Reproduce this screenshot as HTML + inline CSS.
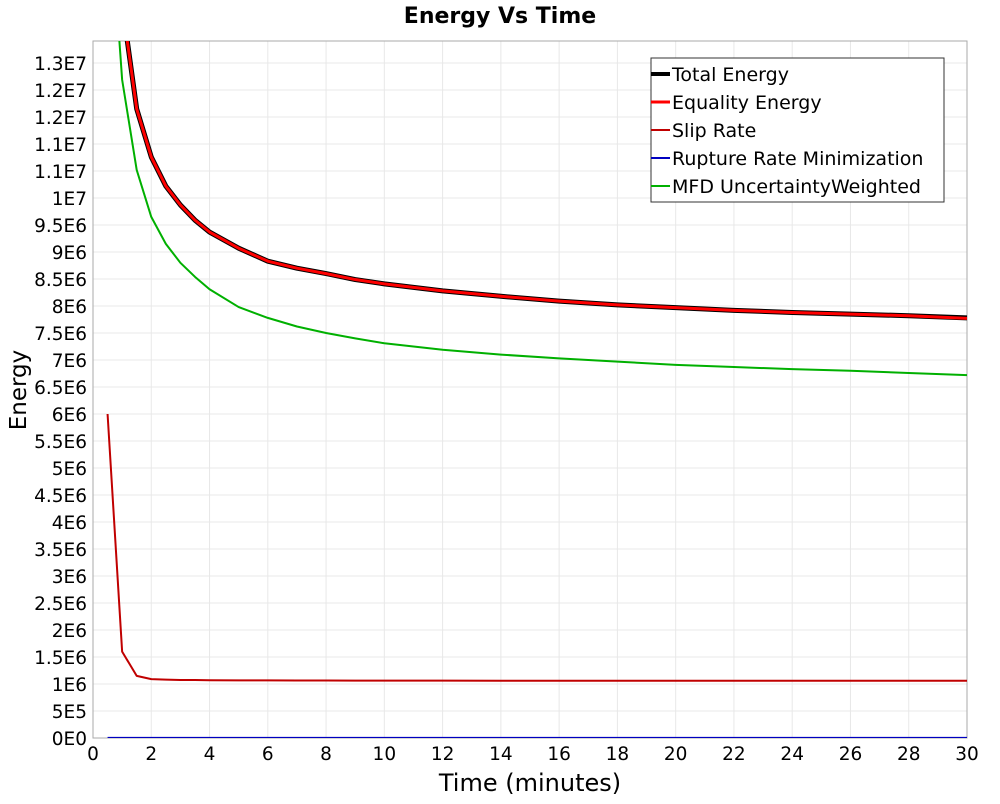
<!DOCTYPE html>
<html><head><meta charset="utf-8"><style>
body{margin:0;background:#fff;font-family:"DejaVu Sans","Liberation Sans",sans-serif}
</style></head><body>
<svg id="chart" width="1000" height="800" xmlns="http://www.w3.org/2000/svg" font-family="DejaVu Sans, Liberation Sans, sans-serif">
<text x="500" y="23" text-anchor="middle" font-size="22" font-weight="bold">Energy Vs Time</text>
<g id="grid"></g>
<g id="axes"></g>
<g id="series"></g>
<text transform="translate(26,390) rotate(-90)" text-anchor="middle" font-size="23">Energy</text>
<text x="530" y="791" text-anchor="middle" font-size="24">Time (minutes)</text>
<g>
<rect x="651" y="58" width="293" height="144" fill="#fff" stroke="#333" stroke-width="1"/>
<g><line x1="651" y1="74" x2="670" y2="74" stroke="#000" stroke-width="4"/><text x="672" y="81" font-size="19">Total Energy</text></g>
<g><line x1="651" y1="102" x2="670" y2="102" stroke="#f00" stroke-width="3"/><text x="672" y="109" font-size="19">Equality Energy</text></g>
<g><line x1="651" y1="130" x2="670" y2="130" stroke="#c00000" stroke-width="2"/><text x="672" y="137" font-size="19">Slip Rate</text></g>
<g><line x1="651" y1="158" x2="670" y2="158" stroke="#0000c0" stroke-width="2"/><text x="672" y="165" font-size="19">Rupture Rate Minimization</text></g>
<g><line x1="651" y1="186" x2="670" y2="186" stroke="#00b000" stroke-width="2"/><text x="672" y="193" font-size="19">MFD UncertaintyWeighted</text></g>
</g>
</svg>
<script>
const times=[0.5,1,1.5,2,2.5,3,3.5,4,5,6,7,8,9,10,12,14,16,18,20,22,24,26,28,30];
const totalEnergy=[17e6,13.6e6,11.65e6,10.76e6,10.22e6,9.87e6,9.59e6,9.37e6,9.07e6,8.83e6,8.7e6,8.6e6,8.49e6,8.41e6,8.28e6,8.18e6,8.09e6,8.02e6,7.97e6,7.92e6,7.88e6,7.85e6,7.82e6,7.78e6];
const equalityEnergy=[17e6,13.6e6,11.65e6,10.76e6,10.22e6,9.87e6,9.59e6,9.37e6,9.07e6,8.83e6,8.7e6,8.6e6,8.49e6,8.41e6,8.28e6,8.18e6,8.09e6,8.02e6,7.97e6,7.92e6,7.88e6,7.85e6,7.82e6,7.77e6];
const slipRate=[6.0e6,1.6e6,1.15e6,1.09e6,1.08e6,1.075e6,1.073e6,1.07e6,1.068e6,1.066e6,1.065e6,1.064e6,1.063e6,1.062e6,1.062e6,1.061e6,1.061e6,1.06e6,1.06e6,1.06e6,1.06e6,1.06e6,1.06e6,1.06e6];
const ruptureRate=[2e3,2e3,2e3,2e3,2e3,2e3,2e3,2e3,2e3,2e3,2e3,2e3,2e3,2e3,2e3,2e3,2e3,2e3,2e3,2e3,2e3,2e3,2e3,2e3];
const mfd=[16e6,12.19e6,10.52e6,9.65e6,9.15e6,8.8e6,8.54e6,8.31e6,7.98e6,7.78e6,7.62e6,7.5e6,7.4e6,7.31e6,7.19e6,7.1e6,7.03e6,6.97e6,6.91e6,6.87e6,6.83e6,6.8e6,6.76e6,6.72e6];
const xTicks=[0,2,4,6,8,10,12,14,16,18,20,22,24,26,28,30];
const yTickValues=[0,5e5,1e6,1.5e6,2e6,2.5e6,3e6,3.5e6,4e6,4.5e6,5e6,5.5e6,6e6,6.5e6,7e6,7.5e6,8e6,8.5e6,9e6,9.5e6,1e7,1.05e7,1.1e7,1.15e7,1.2e7,1.25e7];
const yTickLabels=["0E0","5E5","1E6","1.5E6","2E6","2.5E6","3E6","3.5E6","4E6","4.5E6","5E6","5.5E6","6E6","6.5E6","7E6","7.5E6","8E6","8.5E6","9E6","9.5E6","1E7","1.1E7","1.1E7","1.2E7","1.2E7","1.3E7"];

const L=93,R=967,T=41,B=738,XMAX=30,YMAX=(B-T)/54*1e6;
const sx=v=>L+v/XMAX*(R-L);
const sy=v=>B-v/YMAX*(B-T);
const NS="http://www.w3.org/2000/svg";
function mk(tag,parent,attrs){const e=document.createElementNS(NS,tag);for(const k in attrs)e.setAttribute(k,attrs[k]);parent.appendChild(e);return e;}
const grid=document.getElementById('grid'),axes=document.getElementById('axes'),series=document.getElementById('series');
mk('rect',grid,{x:L,y:T,width:R-L,height:B-T,fill:'#fff'});
xTicks.forEach(t=>{
  const l=mk('line',grid,{x1:sx(t),x2:sx(t),y1:T,y2:B,stroke:'#e8e8e8'});
  
  
  const tx=mk('text',axes,{x:sx(t),y:B+22,'text-anchor':'middle','font-size':18.5});
  tx.textContent=t;
  
  
});
yTickValues.forEach((v,i)=>{
  const l=mk('line',grid,{x1:L,x2:R,y1:sy(v),y2:sy(v),stroke:'#e8e8e8'});
  
  
  const tx=mk('text',axes,{x:L-6,y:sy(v)+7,'text-anchor':'end','font-size':18.5});
  tx.textContent=yTickLabels[i];
  
  
});
mk('rect',axes,{x:L,y:T,width:R-L,height:B-T,fill:'none',stroke:'#aaa'});
const clip=mk('clipPath',series,{id:'pc'});mk('rect',clip,{x:L,y:T,width:R-L,height:B-T});
function line(vals,color,w,name){
  const p=mk('polyline',series,{points:times.map((t,i)=>sx(t)+','+sy(vals[i])).join(' '),fill:'none',stroke:color,'stroke-width':w,'clip-path':'url(#pc)','stroke-linejoin':'round'});
  
  
}
line(ruptureRate,'#0000c0',2,'rupture-rate-line');
line(slipRate,'#c00000',2,'slip-rate-line');
line(mfd,'#00b000',2,'mfd-line');
line(totalEnergy,'#000',5,'total-energy-line');
line(equalityEnergy,'#f00',3,'equality-energy-line');
</script>
</body></html>
